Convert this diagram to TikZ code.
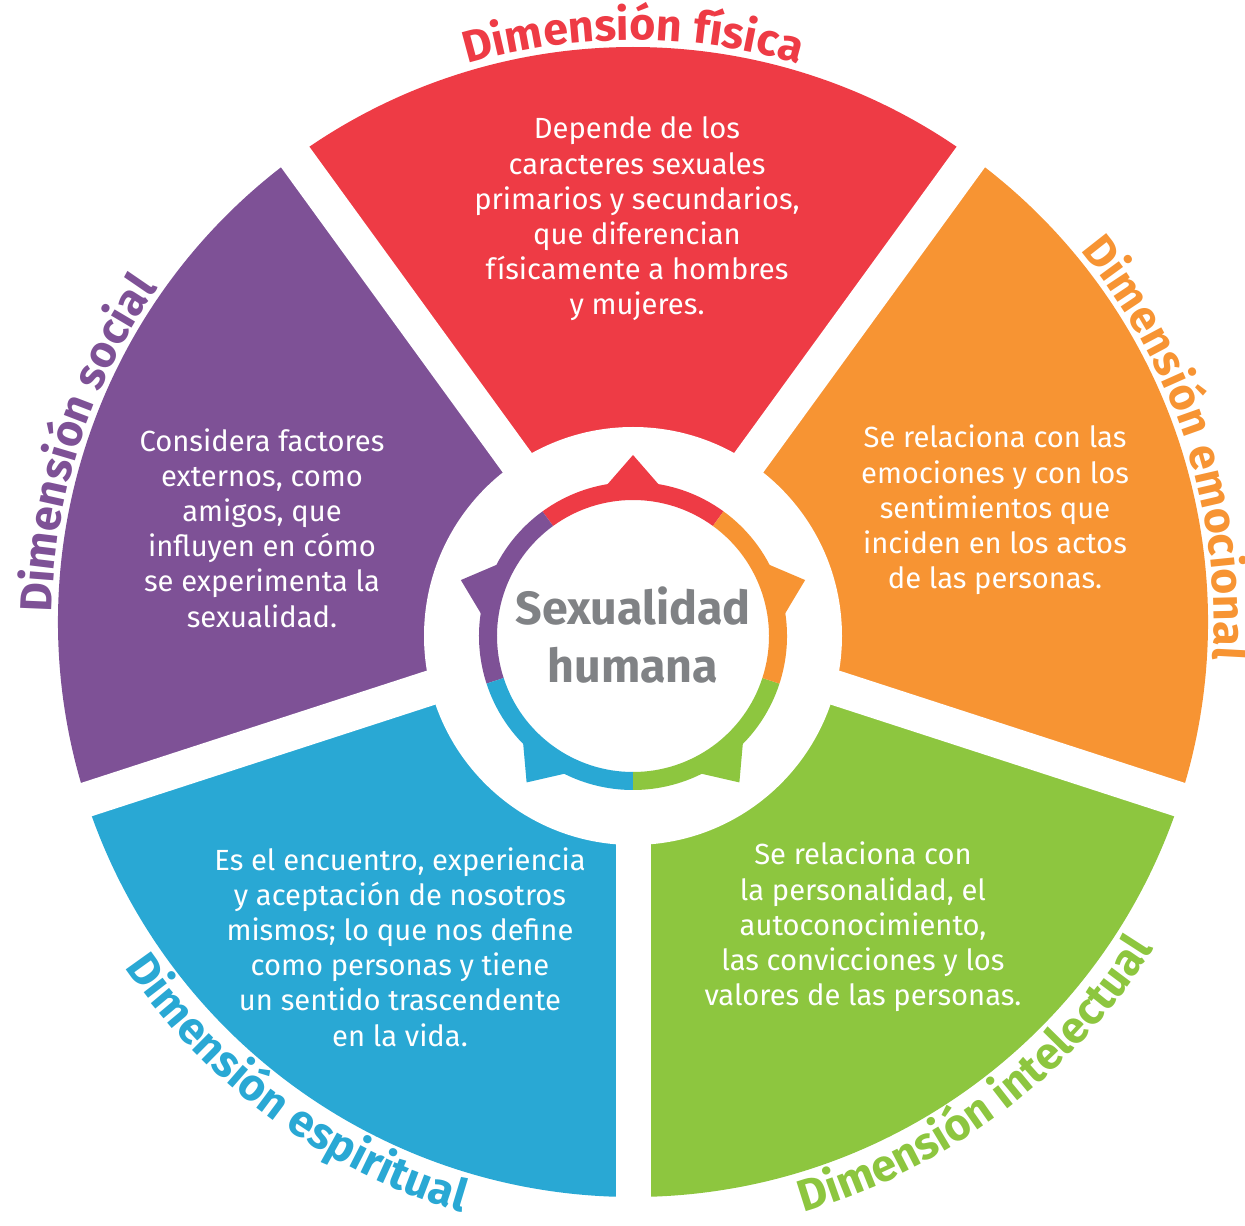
\documentclass[tikz,border=0pt]{standalone}
\usepackage{fontspec}
\setmainfont{Fira Sans}
\usetikzlibrary{calc,decorations.text}
\definecolor{cRed}{RGB}{238,59,69}
\definecolor{cOrange}{RGB}{247,148,51}
\definecolor{cGreen}{RGB}{141,198,63}
\definecolor{cBlue}{RGB}{41,168,212}
\definecolor{cPurple}{RGB}{126,81,150}
\definecolor{cGray}{RGB}{128,130,133}
\newcommand\lblfont{\bfseries\fontsize{25.5}{30}\selectfont}
\newcommand\lblRed{\lblfont\color{cRed}}
\newcommand\lblOrange{\lblfont\color{cOrange}}
\newcommand\lblGreen{\lblfont\color{cGreen}}
\newcommand\lblBlue{\lblfont\color{cBlue}}
\newcommand\lblPurple{\lblfont\color{cPurple}}
\tikzset{
  bodytext/.style={text=white, align=center, font=\fontsize{16.6}{20}\selectfont, inner sep=0pt},
  gapband/.style={white, line width=0.7cm},
  centertext/.style={text=cGray, font=\bfseries\fontsize{26.5}{33}\selectfont, inner sep=0pt, anchor=base}
}
\begin{document}
\begin{tikzpicture}[x=0.02cm,y=0.02cm]
\useasboundingbox (0,0) rectangle (1245,1225);
\coordinate (C) at (633,603);
\coordinate (Cr) at (633,589);

% sectors
\foreach \a/\col in {90/cRed, 162/cPurple, 234/cBlue, 306/cGreen, 18/cOrange} {
  \fill[\col] (C) -- ($(C)+(\a-36:575)$) arc[start angle=\a-36, end angle=\a+36, radius=575] -- cycle;
}
% gaps
\foreach \a in {54,126,198,270,342} {
  \draw[gapband] (C) -- ($(C)+(\a:590)$);
}
% hole
\fill[white] (Cr) circle[radius=209];

% ring with tips
\foreach \a/\col in {90/cRed, 162/cPurple, 234/cBlue, 306/cGreen, 18/cOrange} {
  \fill[\col] ($(Cr)+(\a-36:154)$) arc[start angle=\a-36, end angle=\a+36, radius=154]
     -- ($(Cr)+(\a+36:136)$) arc[start angle=\a+36, end angle=\a-36, radius=136] -- cycle;
  \fill[\col] ($(Cr)+(\a:150)+(\a+90:27)$) -- ($(Cr)+(\a:181)$) -- ($(Cr)+(\a:150)+(\a-90:27)$) -- cycle;
}

% center text
\node[centertext] (t1) at (633,600) {Sexualidad};
\node[centertext] (t2) at (633,542) {humana};

% body texts
\node[bodytext] (red) at (637,1006) {Depende de los\\caracteres sexuales\\primarios y secundarios,\\que diferencian\\físicamente a hombres\\y mujeres.};
\node[bodytext] (orange) at (995,715) {Se relaciona con las\\emociones y con los\\sentimientos que\\inciden en los actos\\de las personas.};
\node[bodytext] (purple) at (262,697) {Considera factores\\externos, como\\amigos, que\\influyen en cómo\\se experimenta la\\sexualidad.};
\node[bodytext] (blue) at (400,278) {Es el encuentro, experiencia\\y aceptación de nosotros\\mismos; lo que nos define\\como personas y tiene\\un sentido trascendente\\en la vida.};
\node[bodytext] (green) at (863,298) {Se relaciona con\\la personalidad, el\\autoconocimiento,\\las convicciones y los\\valores de las personas.};

% curved labels
\path[decorate, decoration={text along path, text align=center, text={|\lblRed|Dimensión física}}]
  ($(C)+(135:582)$) arc[start angle=135, end angle=45, radius=582];
\path[decorate, decoration={text along path, text align=center, text={|\lblOrange|Dimensión emocional}}]
  ($(C)+(63:581)$) arc[start angle=63, end angle=-27, radius=581];
\path[decorate, decoration={text along path, text align=center, text={|\lblPurple|Dimensión social}}]
  ($(C)+(207:581)$) arc[start angle=207, end angle=117, radius=581];
\path[decorate, decoration={text along path, text align=center, text={|\lblBlue|Dimensión espiritual}}]
  ($(C)+(189:614)$) arc[start angle=189, end angle=279, radius=614];
\path[decorate, decoration={text along path, text align=center, text={|\lblGreen|Dimensión intelectual}}]
  ($(C)+(262:614)$) arc[start angle=262, end angle=352, radius=614];
\end{tikzpicture}
\end{document}
